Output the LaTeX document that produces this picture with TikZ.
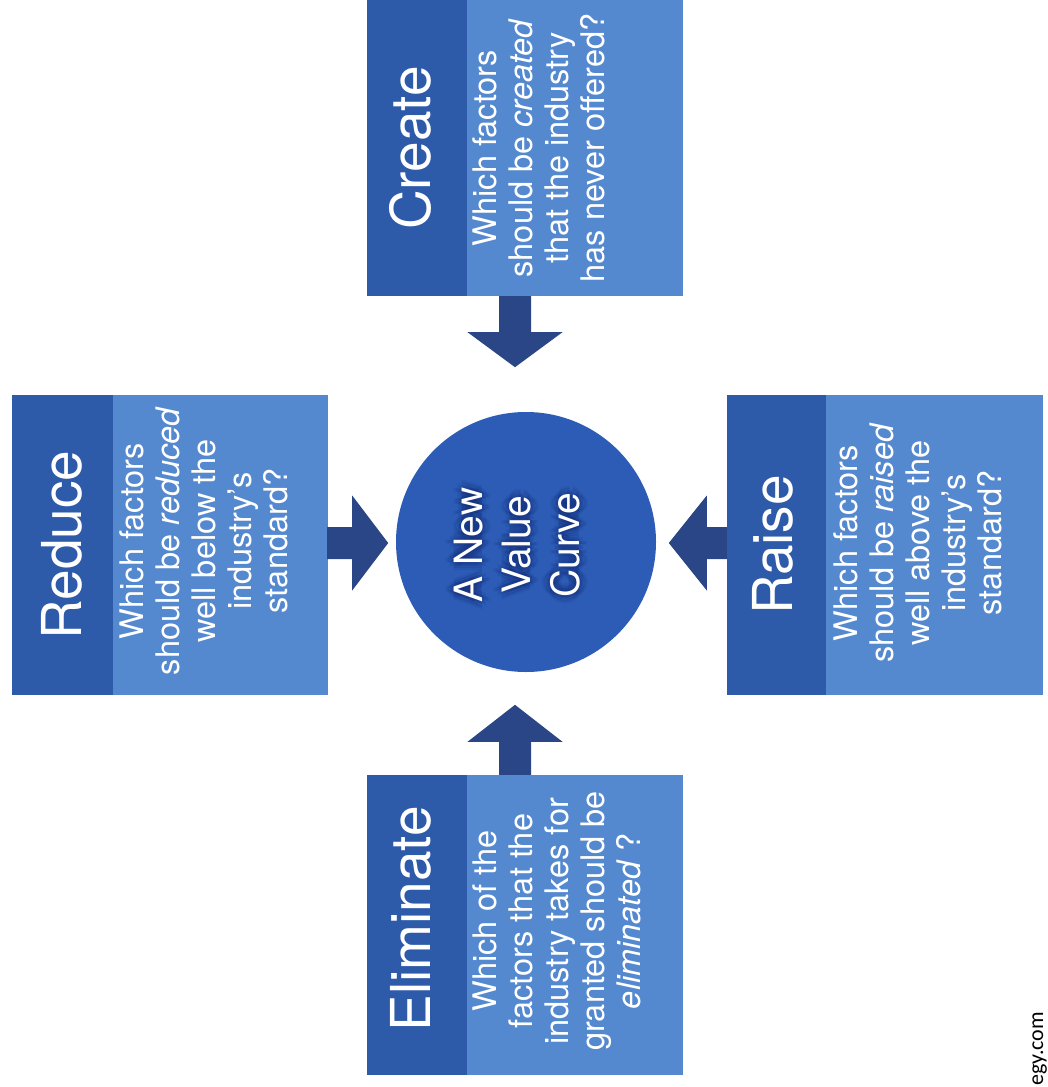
\documentclass[tikz,border=0pt]{standalone}
\usepackage{fontspec}
\setmainfont{TeX Gyre Heros}
\newfontfamily\urlfont{Carlito}
\usetikzlibrary{calc}
\definecolor{stripblue}{RGB}{46,90,170}
\definecolor{lightblue}{RGB}{84,137,208}
\definecolor{circblue}{RGB}{44,92,182}
\definecolor{arrowblue}{RGB}{42,70,135}
\definecolor{glowblue}{RGB}{18,42,115}
\begin{document}
\begin{tikzpicture}[x=1pt,y=-1pt,
  boxshape/.style={rectangle, fill=lightblue, inner sep=0pt, minimum width=316pt, minimum height=300pt},
  stripfill/.style={fill=stripblue},
  titletext/.style={text=white, rotate=90, inner sep=0pt, font=\fontsize{55}{60}\selectfont},
  bodytext/.style={text=white, rotate=90, inner sep=0pt, align=center, anchor=north, font=\fontsize{32.5}{36}\selectfont},
  curvetext/.style={rotate=90, inner sep=0pt, align=center, font=\fontsize{39}{48.5}\selectfont},
  pics/barrow/.style 2 args={code={
    \fill[arrowblue] (-16,0) -- (16,0) -- (16,#1) -- (47.5,#1) -- (0,#1+#2) -- (-47.5,#1) -- (-16,#1) -- cycle;}},
]
\useasboundingbox (0,0) rectangle (1048,1087);

% Create
\node[boxshape, minimum height=306pt] (create) at (525,143) {};
\fill[stripfill] (create.north west) rectangle ($(create.south west)+(100,0)$);
\node[titletext] (createT) at ($(create.west)+(44,5)$) {Create};
\node[bodytext] (createB) at ($(create.west)+(106,5)$) {Which factors\\ should be \textit{created}\\ that the industry\\ has never offered?};

% Reduce
\node[boxshape] (reduce) at (170,545) {};
\fill[stripfill] (reduce.north west) rectangle ($(reduce.south west)+(101,0)$);
\node[titletext] (reduceT) at ($(reduce.west)+(50,0)$) {Reduce};
\node[bodytext] (reduceB) at ($(reduce.west)+(108,-4)$) {Which factors\\ should be \textit{reduced}\\ well below the\\ industry’s\\ standard?};

% Raise
\node[boxshape] (raise) at (885,545) {};
\fill[stripfill] (raise.north west) rectangle ($(raise.south west)+(99,0)$);
\node[titletext] (raiseT) at ($(raise.west)+(46,0)$) {Raise};
\node[bodytext] (raiseB) at ($(raise.west)+(107,-2)$) {Which factors\\ should be \textit{raised}\\ well above the\\ industry’s\\ standard?};

% Eliminate
\node[boxshape] (elim) at (525,925) {};
\fill[stripfill] (elim.north west) rectangle ($(elim.south west)+(100,0)$);
\node[titletext] (elimT) at ($(elim.west)+(44,-6)$) {Eliminate};
\node[bodytext] (elimB) at ($(elim.west)+(106,-4)$) {Which of the\\ factors that the\\ industry takes for\\ granted should be\\ \textit{eliminated} ?};

% Centre circle
\node[circle, fill=circblue, minimum size=260pt, inner sep=0pt] (curve) at (526,542) {};
\foreach \dx/\dy in {3/0,-3/0,0/3,0/-3,2/2,-2/2,2/-2,-2/-2,6/0,-6/0,0/6,0/-6,4/4,-4/4,4/-4,-4/-4,8/0,-8/0,0/8,0/-8}
  \node[curvetext, text=glowblue, opacity=0.12] at ($(curve.center)+(\dx-9,\dy+3)$) {A New\\ Value\\ Curve};
\node[curvetext, text=white] (curveT) at ($(curve.center)+(-9,3)$) {A New\\ Value\\ Curve};

% Block arrows
\pic at ($(create.south)+(-10,0)$) {barrow={36}{35}};
\pic[rotate=90] at ($(reduce.east)+(-1,-2)$) {barrow={25}{36}};
\pic[rotate=-90] at ($(raise.west)+(0,-2)$) {barrow={20}{38}};
\pic[rotate=180] at ($(elim.north)+(-10,0)$) {barrow={33}{37}};

% Web address fragment in the corner
\node[rotate=90, anchor=south west, inner sep=0pt, font=\urlfont\fontsize{22}{26}\selectfont] (url) at (1047,1086) {egy.com};
\end{tikzpicture}
\end{document}
